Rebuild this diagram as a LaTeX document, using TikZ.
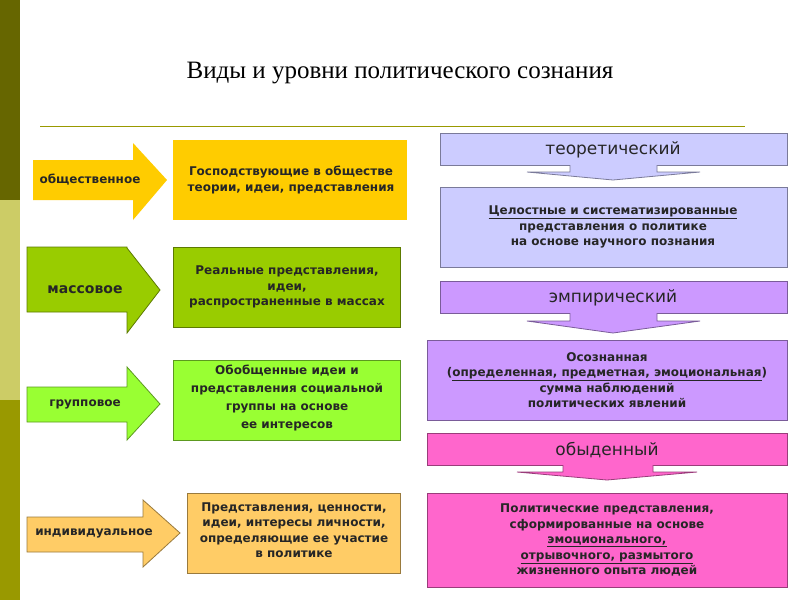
\documentclass[tikz,border=0pt]{standalone}
\usepackage{fontspec}
\setmainfont{Liberation Serif}
\newfontfamily\vsans{DejaVu Sans}
\begin{document}
\begin{tikzpicture}[x=1pt,y=-1pt,
  box/.style={draw=#1!60!black, line width=0.8pt},
  btxt/.style={font=\vsans\bfseries\fontsize{12}{15.5}\selectfont, align=center, text=black!85},
  htxt/.style={font=\vsans\fontsize{17}{19}\selectfont, text=black!85}]
\definecolor{dol}{HTML}{666600}\definecolor{lol}{HTML}{CCCC66}\definecolor{mol}{HTML}{999900}
\definecolor{cY}{HTML}{FFCC00}\definecolor{cG}{HTML}{99CC00}\definecolor{cL}{HTML}{99FF33}\definecolor{cO}{HTML}{FFCC66}
\definecolor{cT}{HTML}{CCCCFF}\definecolor{cE}{HTML}{CC99FF}\definecolor{cP}{HTML}{FF66CC}
\useasboundingbox (0,0) rectangle (800,600);
\fill[white] (0,0) rectangle (800,600);
\fill[dol] (0,0) rectangle (20,200);
\fill[lol] (0,200) rectangle (20,400);
\fill[mol] (0,400) rectangle (20,600);
\node[font=\fontsize{25}{27}\selectfont] (title) at (400,73) {Виды и уровни политического сознания};
\draw[mol, line width=1pt] (40,126) -- (745,126);
% left arrows
\fill[cY] (33,160) -- (133,160) -- (133,143) -- (167,180) -- (133,220) -- (133,200) -- (33,200) -- cycle;
\node[btxt] (a1) at (90,180) {общественное};
\fill[cY] (173,140) rectangle (407,220);
\node[btxt] (b1) at (291,180) {Господствующие в обществе\\теории, идеи, представления};
\draw[box=cG, fill=cG] (27,247) -- (127,247) -- (127,248) -- (160,290) -- (127,333) -- (127,312) -- (27,312) -- cycle;
\node[btxt, font=\vsans\bfseries\fontsize{14}{16}\selectfont] (a2) at (85,290) {массовое};
\draw[box=cG, fill=cG] (173,247) rectangle (400,327);
\node[btxt] (b2) at (287,287) {Реальные представления,\\идеи,\\распространенные в массах};
\draw[box=cL, fill=cL] (27,387) -- (127,387) -- (127,367) -- (160,404) -- (127,440) -- (127,422) -- (27,422) -- cycle;
\node[btxt] (a3) at (85,404) {групповое};
\draw[box=cL, fill=cL] (173,360) rectangle (400,440);
\node[btxt, font=\vsans\bfseries\fontsize{12}{18}\selectfont] (b3) at (287,398) {Обобщенные идеи и\\представления социальной\\группы на основе\\ее интересов};
\draw[box=cO, fill=cO] (27,517) -- (143,517) -- (143,500) -- (180,533) -- (143,567) -- (143,552) -- (27,552) -- cycle;
\node[btxt] (a4) at (94,533) {индивидуальное};
\draw[box=cO, fill=cO] (187,493) rectangle (400,573);
\node[btxt] (b4) at (294,530) {Представления, ценности,\\идеи, интересы личности,\\определяющие ее участие\\в политике};
% right column
\draw[box=cT, fill=cT] (440,133) rectangle (787,165);
\node[htxt] (h1) at (613,150) {теоретический};
\draw[box=cT, fill=cT] (570,165) -- (570,172) -- (527,172) -- (613,180) -- (700,172) -- (657,172) -- (657,165);
\draw[box=cT, fill=cT] (440,187) rectangle (787,267);
\node[btxt] (r1) at (613,227) {\underline{Целостные и систематизированные}\\представления о политике\\на основе научного познания};
\draw[box=cE, fill=cE] (440,281) rectangle (787,313);
\node[htxt] (h2) at (613,298) {эмпирический};
\draw[box=cE, fill=cE] (570,313) -- (570,321) -- (527,321) -- (613,333) -- (700,321) -- (657,321) -- (657,313);
\draw[box=cE, fill=cE] (427,340) rectangle (787,420);
\node[btxt] (r2) at (607,380) {Осознанная\\(\underline{определенная, предметная, эмоциональная})\\сумма наблюдений\\политических явлений};
\draw[box=cP, fill=cP] (427,433) rectangle (787,465);
\node[htxt] (h3) at (607,450) {обыденный};
\draw[box=cP, fill=cP] (563,465) -- (563,472) -- (517,472) -- (607,480) -- (697,472) -- (653,472) -- (653,465);
\draw[box=cP, fill=cP] (427,493) rectangle (787,587);
\node[btxt] (r3) at (607,540) {Политические представления,\\сформированные на основе\\\underline{эмоционального,}\\\underline{отрывочного, размытого}\\жизненного опыта людей};
\end{tikzpicture}
\end{document}
